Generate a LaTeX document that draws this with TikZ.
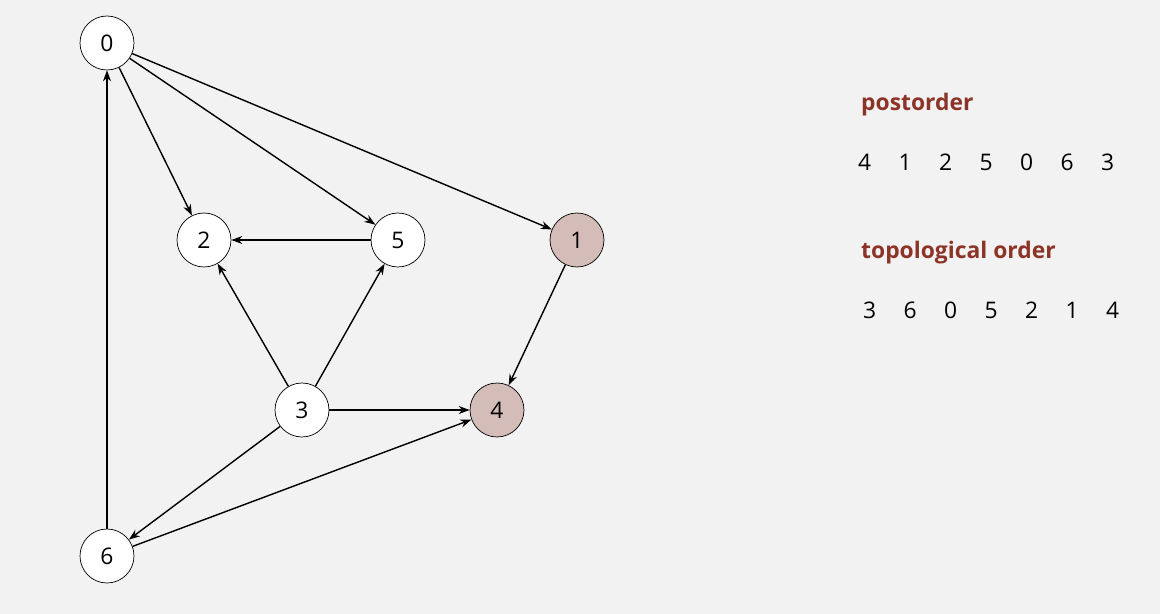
\documentclass[tikz,border=0pt]{standalone}
\usepackage{fontspec}
\setmainfont{Open Sans}
\usetikzlibrary{arrows.meta}
\definecolor{bgcol}{RGB}{242,242,242}
\definecolor{donecol}{RGB}{212,188,184}
\definecolor{headcol}{RGB}{140,52,40}
\begin{document}
\begin{tikzpicture}[x=0.02cm, y=-0.02cm,
        vertex/.style={circle, draw, fill=white, minimum size=1.08cm, inner sep=0pt, font=\fontsize{13}{15}\selectfont},
        done/.style={vertex, fill=donecol},
        arrow/.style={-{Stealth[length=2.2mm, width=1.6mm]}, thick},
        heading/.style={anchor=west, font=\bfseries\fontsize{13}{15}\selectfont, text=headcol},
        seq/.style={anchor=west, font=\fontsize{13}{15}\selectfont}
      ]
      \fill[bgcol] (0,0) rectangle (1160,614);

      % vertices
      \node (v0) [vertex] at (107,43) {0};
      \node (v2) [vertex] at (204,240) {2};
      \node (v5) [vertex] at (398,240) {5};
      \node (v1) [done] at (577,240) {1};
      \node (v3) [vertex] at (302,410) {3};
      \node (v4) [done] at (497,410) {4};
      \node (v6) [vertex] at (107,556) {6};

      % edges
      \draw [arrow] (v0) -- (v2);
      \draw [arrow] (v0) -- (v5);
      \draw [arrow] (v0) -- (v1);
      \draw [arrow] (v5) -- (v2);
      \draw [arrow] (v1) -- (v4);
      \draw [arrow] (v3) -- (v2);
      \draw [arrow] (v3) -- (v5);
      \draw [arrow] (v3) -- (v4);
      \draw [arrow] (v3) -- (v6);
      \draw [arrow] (v6) -- (v0);
      \draw [arrow] (v6) -- (v4);

      % orders
      \node (posthead) [heading] at (855,105) {postorder};
      \node (postseq) [seq] at (852,162) {4\hspace{1.2em}1\hspace{1.2em}2\hspace{1.2em}5\hspace{1.2em}0\hspace{1.2em}6\hspace{1.2em}3};
      \node (topohead) [heading] at (855,253) {topological order};
      \node (toposeq) [seq] at (857,310) {3\hspace{1.2em}6\hspace{1.2em}0\hspace{1.2em}5\hspace{1.2em}2\hspace{1.2em}1\hspace{1.2em}4};
\end{tikzpicture}
\end{document}
